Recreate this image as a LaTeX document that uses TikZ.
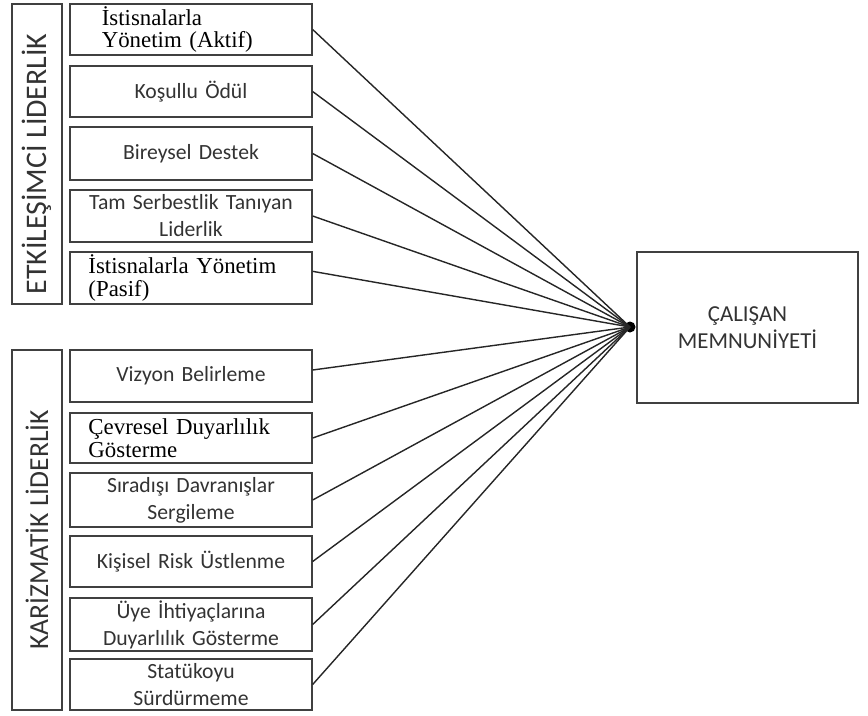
\documentclass[tikz,border=0pt]{standalone}
\usepackage{fontspec}
\setmainfont{Carlito}
\newfontfamily\tnr{Liberation Serif}
\definecolor{txtgrey}{HTML}{333333}
\definecolor{linegrey}{HTML}{404040}
\begin{document}
\begin{tikzpicture}[x=0.03cm,y=-0.03cm,
    item/.style={draw=linegrey,line width=1.1pt,minimum width=7.26cm,
        inner sep=0pt,text width=7cm,align=center,text=txtgrey,
        font=\fontsize{18.5}{23}\selectfont},
    itemtnr/.style={item,text width=6.15cm,align=left,text=black,
        font=\tnr\fontsize{19.5}{19.6}\selectfont},
    grp/.style={draw=linegrey,line width=1.1pt,minimum height=1.5cm,
        rotate=90,inner sep=0pt,text=txtgrey},
    ele/.style={fill=black,circle,minimum size=0.33cm,inner sep=0pt},
    link/.style={line width=1.2pt,draw=black!85}]

    \useasboundingbox (0,0) rectangle (868,715);

    % the groups
    \node[grp,minimum width=9cm,font=\fontsize{25.5}{27}\selectfont] (g1)
        at (37,154) {ETKİLEŞİMCİ LİDERLİK\hspace*{0.6cm}};
    \node[grp,minimum width=10.8cm,font=\fontsize{23.5}{27}\selectfont] (g2)
        at (37,530) {KARİZMATİK LİDERLİK};

    % the items
    \node[itemtnr,minimum height=1.53cm] (n1) at (191,29.5)
        {\hspace*{0.4cm}İstisnalarla\\\hspace*{0.4cm}Yönetim (Aktif)};
    \node[item,minimum height=1.53cm] (n2) at (191,91.5) {Koşullu Ödül};
    \node[item,minimum height=1.59cm] (n3) at (191,153.5) {Bireysel Destek};
    \node[item,minimum height=1.56cm] (n4) at (191,216)
        {Tam Serbestlik Tanıyan\\Liderlik};
    \node[itemtnr,minimum height=1.56cm] (n5) at (191,278)
        {İstisnalarla Yönetim\\(Pasif)};

    \node[item,minimum height=1.56cm] (n6) at (191,376) {Vizyon Belirleme};
    \node[itemtnr,minimum height=1.5cm] (n7) at (191,438)
        {Çevresel Duyarlılık\\Gösterme};
    \node[item,minimum height=1.62cm] (n8) at (191,500)
        {Sıradışı Davranışlar\\Sergileme};
    \node[item,minimum height=1.53cm] (n9) at (191,561.5)
        {Kişisel Risk Üstlenme};
    \node[item,minimum height=1.59cm] (n10) at (191,624.5)
        {Üye İhtiyaçlarına\\Duyarlılık Gösterme};
    \node[item,minimum height=1.53cm] (n11) at (191,684.5)
        {Statükoyu\\Sürdürmeme};

    % the outcome
    \node[item,minimum width=6.63cm,minimum height=4.53cm,text width=6cm,
        font=\fontsize{19.5}{23}\selectfont] (out) at (747.5,327.5)
        {ÇALIŞAN\\MEMNUNİYETİ};
    \node[ele] (dot) at (630,327) {};

    % the links
    \foreach \n in {n1,n2,n3,n4,n7,n8,n9,n10,n11}
        \draw[link] (\n.east) -- (dot.center);
    \draw[link] ([yshift=0.2cm]n5.east) -- (dot.center);
    \draw[link] ([yshift=0.18cm]n6.east) -- (dot.center);
\end{tikzpicture}
\end{document}
